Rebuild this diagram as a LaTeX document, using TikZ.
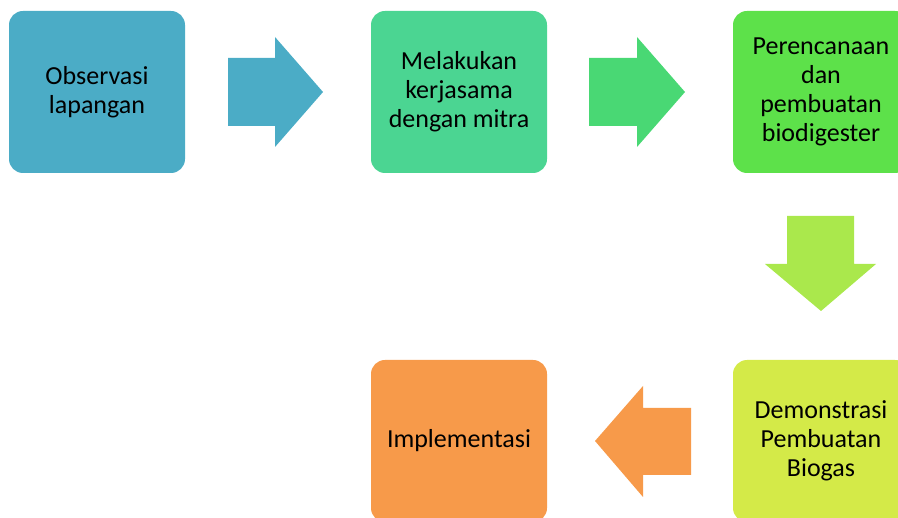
\documentclass[tikz,border=0pt]{standalone}
\usepackage{fontspec}
\setmainfont{Carlito}
\definecolor{cA}{HTML}{4BACC6}
\definecolor{cB}{HTML}{4BD592}
\definecolor{cBa}{HTML}{49D874}
\definecolor{cC}{HTML}{5DE14A}
\definecolor{cCa}{HTML}{AAE84C}
\definecolor{cD}{HTML}{D4EA48}
\definecolor{cE}{HTML}{F79A4A}
\begin{document}
\begin{tikzpicture}[x=1pt,y=-1pt,
  box/.style={rectangle, rounded corners=14pt, minimum width=176pt, minimum height=162pt,
    inner sep=0pt, align=center, font=\fontsize{26}{29}\selectfont, text=black}]
\useasboundingbox (0,0) rectangle (898,518);
\clip (0,0) rectangle (898,518);
\node[box, fill=cA] (obs) at (97,92) {Observasi\\lapangan};
\node[box, fill=cB] (mitra) at (459,92) {Melakukan\\kerjasama\\dengan mitra};
\node[box, fill=cC] (plan) at (821,92) {Perencanaan\\dan\\pembuatan\\biodigester};
\node[box, fill=cD] (demo) at (821,441) {Demonstrasi\\Pembuatan\\Biogas};
\node[box, fill=cE] (impl) at (459,441) {Implementasi};
\fill[cA] (228,58) -- (275,58) -- (275,37) -- (323,92) -- (275,147) -- (275,126) -- (228,126) -- cycle;
\fill[cBa] (589,58) -- (637,58) -- (637,37) -- (685,92) -- (637,147) -- (637,126) -- (589,126) -- cycle;
\fill[cCa] (787,216) -- (854,216) -- (854,264) -- (876,264) -- (821,311) -- (765,264) -- (787,264) -- cycle;
\fill[cE] (691,408) -- (643,408) -- (643,386) -- (595,441) -- (643,497) -- (643,475) -- (691,475) -- cycle;
\end{tikzpicture}
\end{document}
